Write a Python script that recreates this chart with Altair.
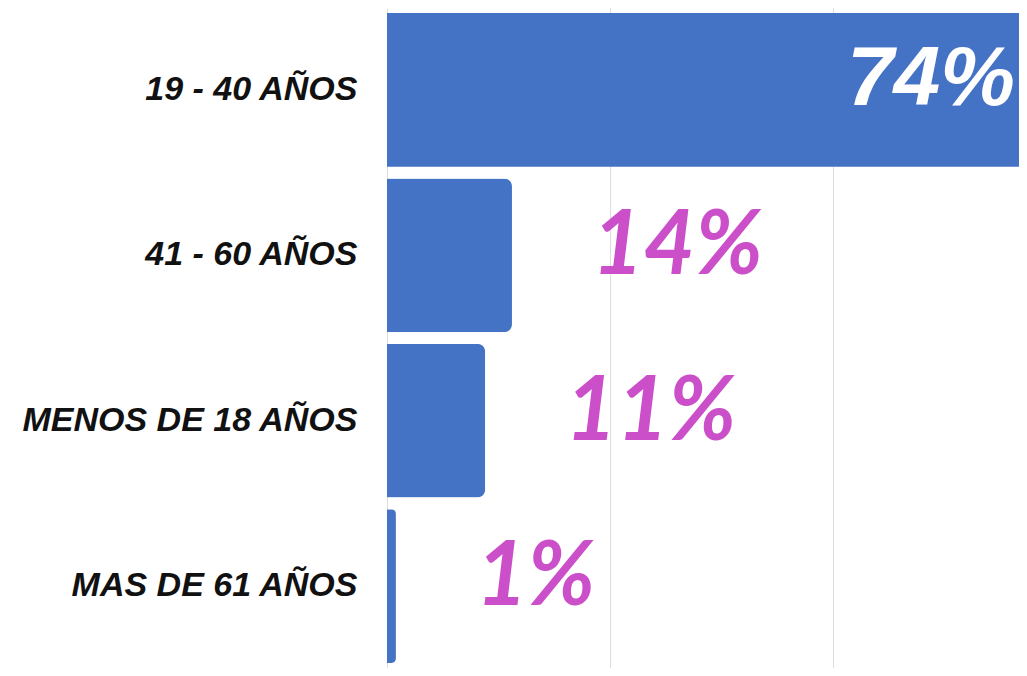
import altair as alt
import pandas as pd

categories = ["19 - 40 AÑOS", "41 - 60 AÑOS", "MENOS DE 18 AÑOS", "MAS DE 61 AÑOS"]
values = [74, 14, 11, 1]
grid_values = [0, 25, 50]

df = pd.DataFrame({"grupo": categories, "pct": values})
df["label"] = df["pct"].astype(str) + "%"

BLUE = "#4472C4"
PINK = "#CC4FCA"

x_scale = alt.Scale(domain=[0, 70.8], clamp=True, nice=False, zero=True)
y_scale = alt.Scale(domain=categories, paddingInner=0.07, paddingOuter=0.03)

base = alt.Chart(df).encode(
    y=alt.Y(
        "grupo:N",
        sort=categories,
        scale=y_scale,
        axis=alt.Axis(
            title=None,
            ticks=False,
            domain=False,
            labelFont="Liberation Sans",
            labelFontWeight="bold",
            labelFontStyle="italic",
            labelFontSize=34,
            labelColor="#111111",
            labelPadding=30,
            labelLimit=500,
            minExtent=379,
        ),
    )
)

x_enc = alt.X(
    "pct:Q",
    scale=x_scale,
    axis=alt.Axis(
        title=None,
        labels=False,
        ticks=False,
        domain=False,
        grid=True,
        values=grid_values,
        gridColor="#DDDDDD",
        gridWidth=1,
    ),
)

bars_small = base.transform_filter(alt.datum.pct < 50).mark_bar(
    color=BLUE, cornerRadiusEnd=8
).encode(x=x_enc)

bars_big = base.transform_filter(alt.datum.pct >= 50).mark_bar(
    color=BLUE
).encode(x=x_enc)

big = base.transform_filter(alt.datum.pct >= 50).mark_text(
    align="right",
    baseline="middle",
    dx=-4,
    dy=-10,
    font="Liberation Sans",
    fontWeight="bold",
    fontStyle="italic",
    fontSize=84,
    color="white",
).encode(x=alt.X("pct:Q", scale=x_scale), text="label:N")

small = base.transform_filter(alt.datum.pct < 50).mark_text(
    align="left",
    baseline="middle",
    dx=80,
    dy=-8,
    font="Lato",
    fontWeight="bold",
    fontStyle="italic",
    fontSize=89,
    color=PINK,
).encode(x=alt.X("pct:Q", scale=x_scale), text="label:N")

chart = (
    alt.layer(bars_small, bars_big, big, small)
    .properties(width=632, height=660, padding=0)
    .configure_view(stroke=None)
)

chart.save("out.html", embed_options={"renderer": "svg", "actions": False})
